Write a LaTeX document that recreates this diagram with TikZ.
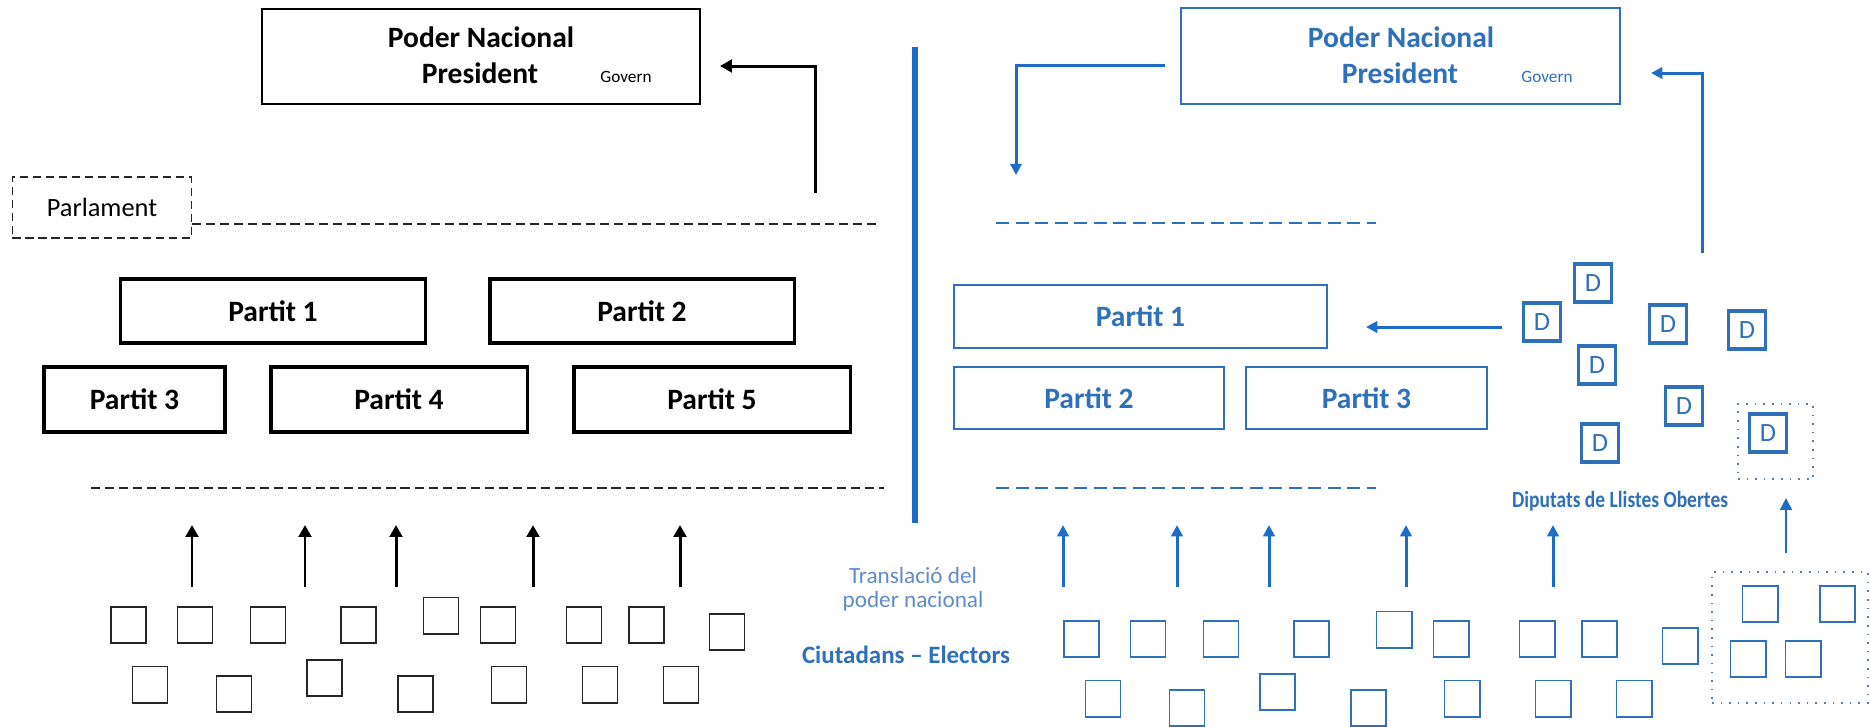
\documentclass[tikz,border=0pt]{standalone}
\usepackage{fontspec}
\setmainfont{Carlito}
\usetikzlibrary{arrows.meta}
\definecolor{bl}{RGB}{46,112,185}
\definecolor{bldiv}{RGB}{28,108,200}
\definecolor{bllight}{RGB}{95,140,200}
\definecolor{bldot}{RGB}{90,125,170}
\begin{document}
\begin{tikzpicture}[x=0.01cm,y=-0.01cm,
  kbox/.style={draw=black, line width=0.9pt, inner sep=0pt, font=\fontsize{8.4}{10}\selectfont\bfseries},
  bbox/.style={draw=bl, line width=0.6pt, inner sep=0pt, text=bl, font=\fontsize{8.4}{10}\selectfont\bfseries},
  ktxt/.style={inner sep=0pt, anchor=base, font=\fontsize{8.4}{10}\selectfont\bfseries},
  btxt/.style={ktxt, text=bl},
  gov/.style={inner sep=0pt, anchor=base, font=\fontsize{4.9}{6}\selectfont},
  sq/.style={draw=black!85, line width=0.55pt, minimum width=0.35cm, minimum height=0.36cm, inner sep=0pt},
  bsq/.style={sq, draw=bl},
  dsq/.style={draw=bl, line width=1.1pt, minimum width=0.37cm, minimum height=0.38cm, inner sep=0pt, text=bl, font=\fontsize{7.5}{9}\selectfont},
  karr/.style={line width=0.85pt, -{Triangle[length=3.4pt,width=3.6pt]}},
  barr/.style={draw=bldiv, line width=0.85pt, -{Triangle[length=3.2pt,width=3.2pt]}},
  kdash/.style={draw=black!85, line width=0.6pt, dash pattern=on 2.6pt off 1.4pt},
  bdash/.style={draw=bl, line width=0.75pt, dash pattern=on 3.7pt off 1.85pt},
  dotbox/.style={draw=bldot, line width=0.45pt, dotted, inner sep=0pt}
]
\useasboundingbox (0,0) rectangle (1870,726);

% ---------------- LEFT ----------------
\node[draw=black, line width=0.5pt, minimum width=4.38cm, minimum height=0.95cm, inner sep=0pt] (pnl) at (481,56.5) {};
\node[ktxt] (pnlA) at (481,47) {Poder Nacional};
\node[ktxt] (pnlB) at (480,83) {President};
\node[gov] (pnlC) at (626,82) {Govern};

\node[draw=black!85, line width=0.5pt, dash pattern=on 2.3pt off 1.4pt, minimum width=1.79cm, minimum height=0.61cm, inner sep=0pt, font=\fontsize{7.5}{9}\selectfont] (parl) at (102,207.5) {Parlament};

\coordinate (dl1a) at (192,224);
\coordinate (dl1b) at (878,224);
\draw[kdash] (dl1a) -- (dl1b);

\coordinate (la0) at (815,193);
\coordinate (la1) at (720,66);
\draw[karr] (la0) |- (la1);

\node[kbox, minimum width=3.04cm, minimum height=0.64cm] (lp1) at (273,311) {Partit 1};
\node[kbox, minimum width=3.04cm, minimum height=0.64cm] (lp2) at (642,311) {Partit 2};
\node[kbox, minimum width=1.81cm, minimum height=0.65cm] (lp3) at (134.5,399.5) {Partit 3};
\node[kbox, minimum width=2.56cm, minimum height=0.65cm] (lp4) at (399,399.5) {Partit 4};
\node[kbox, minimum width=2.76cm, minimum height=0.65cm] (lp5) at (712,399.5) {Partit 5};

\coordinate (dl2a) at (91,488);
\coordinate (dl2b) at (884,488);
\draw[kdash] (dl2a) -- (dl2b);

\foreach \x [count=\i] in {192,305,396,533,680}{
  \coordinate (lvs\i) at (\x,587);
  \coordinate (lve\i) at (\x,525);
  \draw[karr] (lvs\i) -- (lve\i);
}

\foreach \x/\y [count=\i] in {128.5/625,195/625,268/625,358.5/625,441/615.5,498/625,584/625,646.5/625,727/632,
  150/684.5,234/694,324.5/678,415.5/694,509/684.5,600/684.5,681/684.5}{
  \node[sq] (lc\i) at (\x,\y) {};
}

% ---------------- DIVIDER ----------------
\coordinate (divt) at (915,47);
\coordinate (divb) at (915,523);
\draw[draw=bldiv, line width=1.5pt] (divt) -- (divb);

\node[inner sep=0pt, anchor=base, text=bllight, font=\fontsize{6.6}{8}\selectfont] (tr1) at (913,583) {Translació del};
\node[inner sep=0pt, anchor=base, text=bllight, font=\fontsize{6.6}{8}\selectfont] (tr2) at (913,607) {poder nacional};
\node[inner sep=0pt, anchor=base, text=bl, font=\fontsize{7.1}{9}\selectfont\bfseries] (ce) at (906,663) {Ciutadans – Electors};

% ---------------- RIGHT ----------------
\node[draw=bl, line width=0.6pt, minimum width=4.39cm, minimum height=0.96cm, inner sep=0pt] (pnr) at (1400.5,56) {};
\node[btxt] (pnrA) at (1401,47) {Poder Nacional};
\node[btxt] (pnrB) at (1400,83) {President};
\node[gov, text=bl] (pnrC) at (1547,82) {Govern};

\coordinate (ra0) at (1165,65);
\coordinate (ra1) at (1016,175);
\draw[barr] (ra0) -| (ra1);

\coordinate (rb0) at (1702,253);
\coordinate (rb1) at (1651,73);
\draw[barr] (rb0) |- (rb1);

\coordinate (dr1a) at (996,223);
\coordinate (dr1b) at (1376,223);
\draw[bdash] (dr1a) -- (dr1b);

\node[bbox, minimum width=3.73cm, minimum height=0.63cm] (rp1) at (1140.5,316.5) {Partit 1};
\node[bbox, minimum width=2.70cm, minimum height=0.62cm] (rp2) at (1089,398) {Partit 2};
\node[bbox, minimum width=2.41cm, minimum height=0.62cm] (rp3) at (1366.5,398) {Partit 3};

\coordinate (rc0) at (1502,327);
\coordinate (rc1) at (1366,327);
\draw[barr] (rc0) -- (rc1);

\coordinate (dr2a) at (996,488);
\coordinate (dr2b) at (1376,488);
\draw[bdash] (dr2a) -- (dr2b);

\foreach \x/\y [count=\i] in {1593/283,1542/322,1668/324,1747/330,1597/365,1684/406,1600/443,1768/433}{
  \node[dsq] (d\i) at (\x,\y) {D};
}
\node[dotbox, minimum width=0.75cm, minimum height=0.75cm] (dgrp) at (1775.5,441.5) {};

\node[inner sep=0pt, anchor=base, text=bl, font=\fontsize{6.6}{8}\selectfont\bfseries] (dlo) at (1620,507) {\scalebox{0.84}[1]{Diputats de Llistes Obertes}};

\node[dotbox, minimum width=1.56cm, minimum height=1.31cm] (cgrp) at (1790,637.5) {};
\foreach \x/\y [count=\i] in {1760/604,1837.5/604,1748/659,1803/659}{
  \node[bsq] (gc\i) at (\x,\y) {};
}
\coordinate (gs) at (1786,553);
\coordinate (ge) at (1786,498);
\draw[draw=bldiv, line width=0.45pt, -{Triangle[length=3.4pt,width=3.4pt]}] (gs) -- (ge);

\foreach \x [count=\i] in {1063,1177,1269,1406,1553}{
  \coordinate (rvs\i) at (\x,587);
  \coordinate (rve\i) at (\x,525);
  \draw[barr] (rvs\i) -- (rve\i);
}

\foreach \x/\y [count=\i] in {128.5/625,195/625,268/625,358.5/625,441/615.5,498/625,584/625,646.5/625,727/632,
  150/684.5,234/694,324.5/678,415.5/694,509/684.5,600/684.5,681/684.5}{
  \node[bsq] (rcz\i) at (\x+953,\y+14) {};
}
\end{tikzpicture}
\end{document}
